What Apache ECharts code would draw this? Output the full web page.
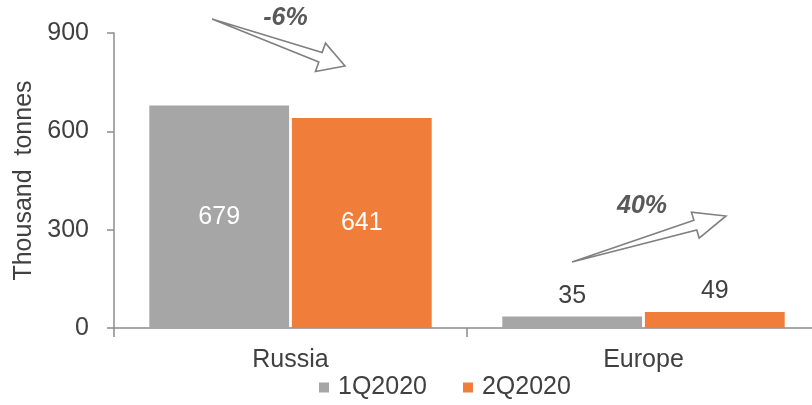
<!DOCTYPE html>
<html>
<head>
<meta charset="utf-8">
<script src="https://cdn.jsdelivr.net/npm/echarts@6/dist/echarts.min.js"></script>
<style>
  html, body { margin: 0; padding: 0; background: #fff; }
  #chart { width: 812px; height: 405px; }
</style>
</head>
<body>
<div id="chart"></div>
<script>
// Sales volumes by region, thousand tonnes
const categories = ['Russia', 'Europe'];
const q1Values = [679, 35];
const q2Values = [641, 49];
const seriesNames = ['1Q2020', '2Q2020'];
const yTicks = [0, 300, 600, 900];
const changeLabels = ['-6%', '40%'];

const FONT = '"Liberation Sans", Arial, sans-serif';
const TEXT = '#404040';
const AXIS = '#8C8C8C';
const FS = 25;

const chart = echarts.init(document.getElementById('chart'));

// Outlined block arrow: thin shaft from tail to an open arrow head
function arrowPoints(tail, tip, headLen, headHalf, shaftHalf) {
  const dx = tip[0] - tail[0], dy = tip[1] - tail[1];
  const len = Math.hypot(dx, dy);
  const ux = dx / len, uy = dy / len;
  const nx = -uy, ny = ux;
  const bx = tip[0] - ux * headLen, by = tip[1] - uy * headLen;
  return [
    tail,
    [bx + nx * shaftHalf, by + ny * shaftHalf],
    [bx + nx * headHalf, by + ny * headHalf],
    tip,
    [bx - nx * headHalf, by - ny * headHalf],
    [bx - nx * shaftHalf, by - ny * shaftHalf]
  ];
}

// Large values get white labels inside; small ones sit on top in dark grey
function withLabels(values) {
  return values.map(v => v > 200
    ? { value: v, label: { position: 'inside', color: '#FFFFFF' } }
    : { value: v, label: { position: 'top', color: TEXT, distance: 8 } });
}

const option = {
  animation: false,
  textStyle: { fontFamily: FONT },
  // the plot area runs a little past the right edge of the canvas
  grid: { left: 114, width: 706, top: 33, bottom: 77, containLabel: false, outerBoundsMode: 'none' },
  legend: {
    data: seriesNames,
    bottom: 0,
    left: 314,
    itemWidth: 10,
    itemHeight: 10,
    itemGap: 36,
    icon: 'rect',
    textStyle: { fontSize: FS, color: TEXT, fontFamily: FONT, padding: [0, 0, 0, 4] }
  },
  xAxis: {
    type: 'category',
    data: categories,
    axisLine: { lineStyle: { color: AXIS, width: 1.5 } },
    axisTick: { show: true, length: 9, lineStyle: { color: AXIS, width: 1.5 } },
    axisLabel: { fontSize: FS, color: TEXT, margin: 20, fontFamily: FONT }
  },
  yAxis: {
    type: 'value',
    min: yTicks[0],
    max: yTicks[yTicks.length - 1],
    interval: 300,
    name: 'Thousand  tonnes',
    nameLocation: 'middle',
    nameGap: 75,
    nameTextStyle: { fontSize: FS, color: TEXT, fontFamily: FONT },
    splitLine: { show: false },
    axisLine: { show: true, lineStyle: { color: AXIS, width: 1.5 } },
    axisTick: { show: true, length: 7, lineStyle: { color: AXIS, width: 1.5 } },
    axisLabel: { fontSize: FS, color: TEXT, margin: 25, fontFamily: FONT }
  },
  series: [
    {
      name: seriesNames[0],
      type: 'bar',
      data: withLabels(q1Values),
      barGap: '2%',
      barCategoryGap: '20%',
      itemStyle: { color: '#A6A6A6' },
      label: { show: true, fontSize: FS, fontFamily: FONT }
    },
    {
      name: seriesNames[1],
      type: 'bar',
      data: withLabels(q2Values),
      itemStyle: { color: '#F07E3A' },
      label: { show: true, fontSize: FS, fontFamily: FONT }
    }
  ]
};

chart.setOption(option);

// Change annotations: arrows anchored above each category's bars
const arrowStyle = { fill: '#FFFFFF', stroke: '#808080', lineWidth: 1.6 };
const labelStyle = {
  fontSize: FS, fontWeight: 'bold', fontStyle: 'italic', fill: '#595959',
  fontFamily: FONT, align: 'center', verticalAlign: 'middle'
};

const ru = chart.convertToPixel({ xAxisIndex: 0, yAxisIndex: 0 }, [0, 900]);
const eu = chart.convertToPixel({ xAxisIndex: 0, yAxisIndex: 0 }, [1, 300]);

chart.setOption({
  graphic: [
    {
      type: 'polygon',
      shape: { points: arrowPoints([ru[0] - 78.5, ru[1] - 14], [ru[0] + 54.5, ru[1] + 33], 26, 15, 5) },
      style: arrowStyle
    },
    {
      type: 'text', x: ru[0] - 5, y: ru[1] - 14.5,
      style: Object.assign({ text: changeLabels[0] }, labelStyle)
    },
    {
      type: 'polygon',
      shape: { points: arrowPoints([eu[0] - 71.5, eu[1] + 32.3], [eu[0] + 82.5, eu[1] - 13.7], 32, 13.5, 5) },
      style: arrowStyle
    },
    {
      type: 'text', x: eu[0] - 1.5, y: eu[1] - 23.7,
      style: Object.assign({ text: changeLabels[1] }, labelStyle)
    }
  ]
});
</script>
</body>
</html>
